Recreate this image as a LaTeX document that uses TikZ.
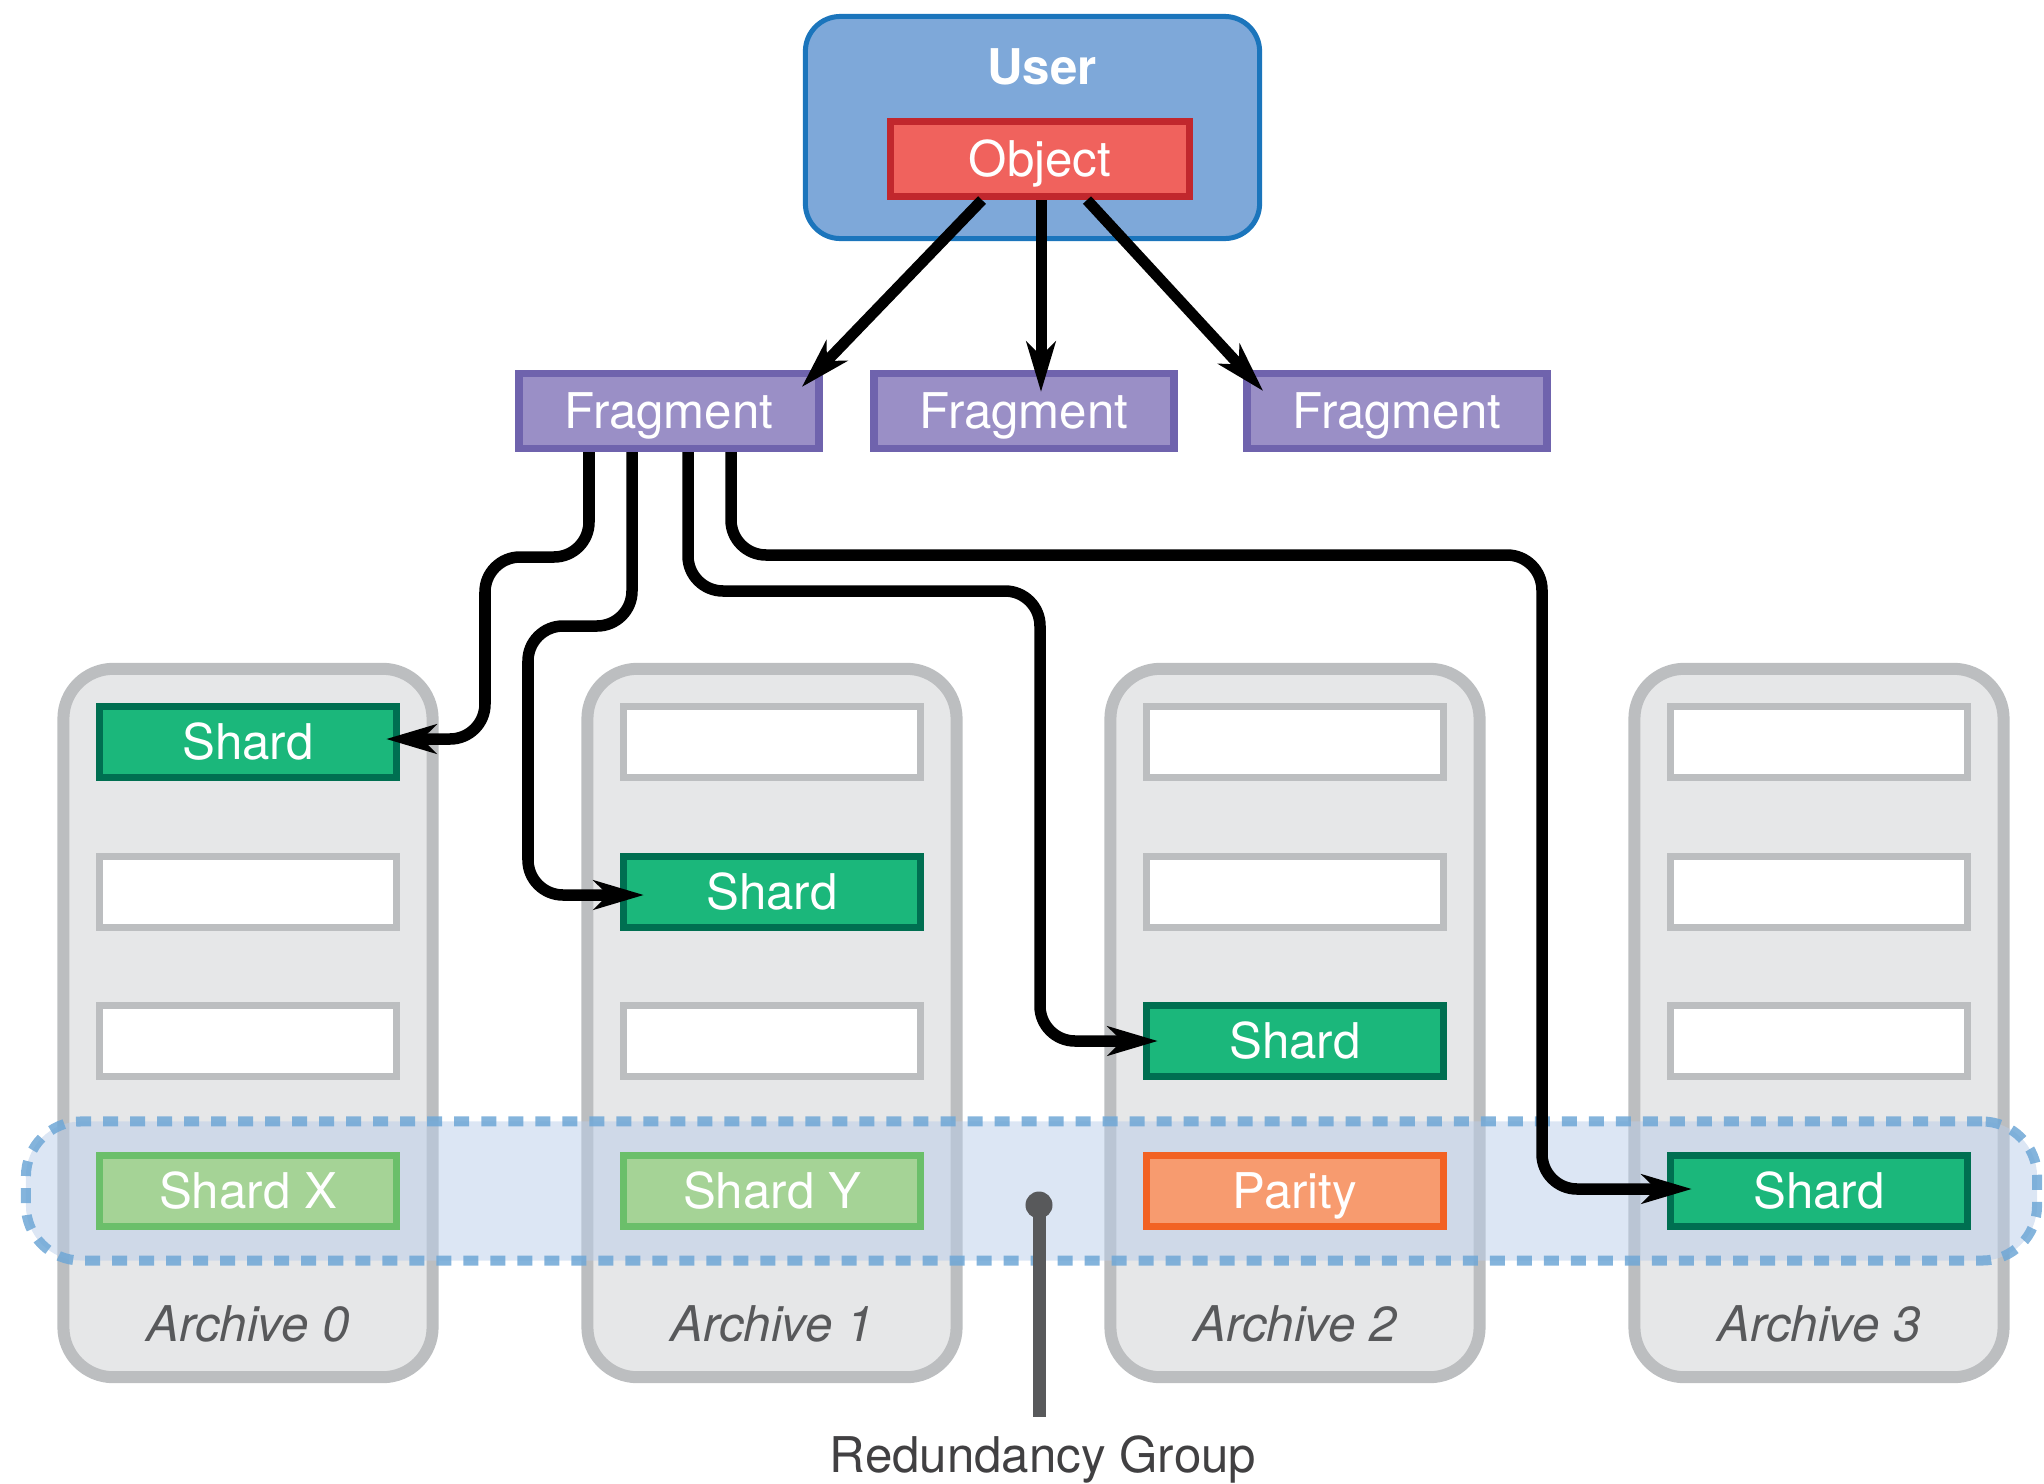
\documentclass[tikz,border=0pt]{standalone}
\usepackage{fontspec}
\setmainfont{TeX Gyre Heros}
\usetikzlibrary{arrows.meta,calc}
\definecolor{userfill}{HTML}{7EA8D9}
\definecolor{userdraw}{HTML}{1B75BC}
\definecolor{objfill}{HTML}{F0625D}
\definecolor{objdraw}{HTML}{C1272D}
\definecolor{fragfill}{HTML}{9A8FC6}
\definecolor{fragdraw}{HTML}{6F63AD}
\definecolor{archfill}{HTML}{E6E7E8}
\definecolor{archdraw}{HTML}{BCBEC0}
\definecolor{shardfill}{HTML}{1BB77B}
\definecolor{sharddraw}{HTML}{006F51}
\definecolor{xyfill}{HTML}{A5D396}
\definecolor{xydraw}{HTML}{6BBF6A}
\definecolor{parfill}{HTML}{F79B6F}
\definecolor{pardraw}{HTML}{F26223}
\definecolor{grpfill}{HTML}{B9CDE9}
\definecolor{grpdraw}{HTML}{6FA7D6}
\definecolor{pinc}{HTML}{58595B}
\definecolor{labc}{HTML}{58595B}
\definecolor{rgc}{HTML}{414042}
\begin{document}
\begin{tikzpicture}[x=0.01cm,y=-0.01cm,
  font=\fontsize{14}{16}\selectfont,
  box/.style={rectangle, text height=10pt, text depth=0pt, inner sep=0pt, text=white},
  userbox/.style={rectangle, rounded corners=0.35cm, fill=userfill, draw=userdraw, line width=0.05cm, minimum width=4.54cm, minimum height=2.22cm},
  objbox/.style={box, fill=objfill, draw=objdraw, line width=0.07cm, minimum width=2.99cm, minimum height=0.75cm},
  fragbox/.style={box, fill=fragfill, draw=fragdraw, line width=0.075cm, minimum width=3.0cm, minimum height=0.745cm},
  archbox/.style={rectangle, rounded corners=0.5cm, fill=archfill, draw=archdraw, line width=0.12cm, minimum width=3.69cm, minimum height=7.08cm},
  slot/.style={box, line width=0.07cm, minimum width=2.97cm, minimum height=0.71cm},
  emptyslot/.style={slot, fill=white, draw=archdraw},
  shardslot/.style={slot, fill=shardfill, draw=sharddraw},
  xyslot/.style={slot, fill=xyfill, draw=xydraw},
  parslot/.style={slot, fill=parfill, draw=pardraw},
  archlabel/.style={text height=10pt, text depth=0pt, inner sep=0pt, text=labc, font=\fontsize{14}{16}\selectfont\itshape},
  grpbox/.style={rectangle, rounded corners=0.55cm, fill=grpfill, fill opacity=0.5, draw=grpdraw, draw opacity=0.85, line width=0.1cm, dash pattern=on 0.15cm off 0.12cm, minimum width=20.1cm, minimum height=1.39cm},
  tipstyle/.style={-{Stealth[length=0.5cm, width=0.29cm, inset=0.14cm]}},
  conn/.style={line width=0.115cm, draw=black, tipstyle, rounded corners=0.35cm},
  objarrow/.style={line width=0.11cm, draw=black, tipstyle},
]
\useasboundingbox (0,0) rectangle (2044,1484);
% user and object
\node[userbox] (user) at (1032.5,127.5) {};
\node[box, font=\fontsize{14}{16}\selectfont\bfseries] (userlabel) at (1042,67) {User};
\node[objbox] (obj) at (1040,159) {Object};
% fragments
\node[fragbox] (f1) at (669,411) {Fragment};
\node[fragbox] (f2) at (1024,411) {Fragment};
\node[fragbox] (f3) at (1397,411) {Fragment};
% archives
\node[archbox] (a0) at (248,1023) {};
\node[archbox] (a1) at (772,1023) {};
\node[archbox] (a2) at (1295,1023) {};
\node[archbox] (a3) at (1819,1023) {};
\node[archlabel] (a0l) at (248,1324) {Archive 0};
\node[archlabel] (a1l) at (772,1324) {Archive 1};
\node[archlabel] (a2l) at (1295,1324) {Archive 2};
\node[archlabel] (a3l) at (1819,1324) {Archive 3};
% redundancy group
\node[grpbox] (grp) at (1031.5,1191) {};
% slots
\node[shardslot] (a0s1) at (248,742) {Shard};
\node[emptyslot] (a0s2) at (248,892) {};
\node[emptyslot] (a0s3) at (248,1041) {};
\node[xyslot] (a0s4) at (248,1191) {Shard X};
\node[emptyslot] (a1s1) at (772,742) {};
\node[shardslot] (a1s2) at (772,892) {Shard};
\node[emptyslot] (a1s3) at (772,1041) {};
\node[xyslot] (a1s4) at (772,1191) {Shard Y};
\node[emptyslot] (a2s1) at (1295,742) {};
\node[emptyslot] (a2s2) at (1295,892) {};
\node[shardslot] (a2s3) at (1295,1041) {Shard};
\node[parslot] (a2s4) at (1295,1191) {Parity};
\node[emptyslot] (a3s1) at (1819,742) {};
\node[emptyslot] (a3s2) at (1819,892) {};
\node[emptyslot] (a3s3) at (1819,1041) {};
\node[shardslot] (a3s4) at (1819,1191) {Shard};
% pin
\node[circle, fill=pinc, inner sep=0pt, minimum size=0.27cm] (pin) at (1039,1205) {};
\coordinate (pinend) at (1039,1417);
\draw[pinc, line width=0.13cm] (pin.center) -- (pinend);
\node[text height=10pt, text depth=0pt, inner sep=0pt, text=rgc] (rglabel) at (1043,1455) {Redundancy Group};
% object arrows
\draw[objarrow] ($(obj.south)+(-58,0)$) -- ($(f1.north east)+(-21,17)$);
\draw[objarrow] ($(obj.south)+(1,0)$) -- ($(obj.south |- f2.north)+(1,22)$);
\draw[objarrow] ($(obj.south)+(47,0)$) -- ($(f3.north west)+(20,21)$);
% fragment connectors
\draw[conn] ($(f1.south)+(-80,0)$) |- (485,557) |- ($(a0s1.east)+(-14,-3)$);
\draw[conn] ($(f1.south)+(-37,0)$) |- (528,626) |- ($(a1s2.west)+(24,3)$);
\draw[conn] ($(f1.south)+(19,0)$) |- (1040,591) |- ($(a2s3.west)+(15,0)$);
\draw[conn] ($(f1.south)+(62,0)$) |- (1542,555) |- ($(a3s4.west)+(25,-2)$);
\end{tikzpicture}
\end{document}
